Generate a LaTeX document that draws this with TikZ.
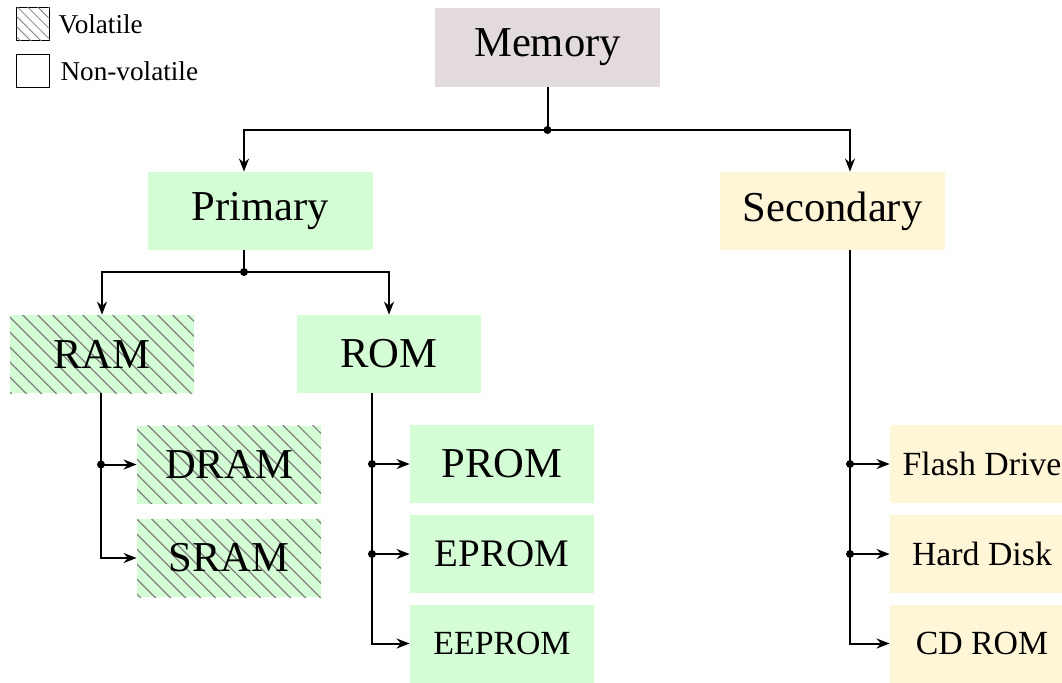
\documentclass[tikz,border=0pt]{standalone}
\usepackage{fontspec}
\setmainfont{Liberation Serif}
\usetikzlibrary{positioning, arrows.meta, patterns.meta}

\definecolor{memgray}{RGB}{226,218,221}
\definecolor{primgreen}{RGB}{213,253,213}
\definecolor{secyellow}{RGB}{255,245,215}

\begin{document}
\begin{tikzpicture}[x=0.5pt, y=-0.5pt,
  box/.style={rectangle, inner sep=0pt, minimum width=92pt, minimum height=39pt,
    font=\fontsize{21.3pt}{25pt}\selectfont},
  wide/.style={box, minimum width=112.5pt},
  small/.style={font=\fontsize{16.9pt}{20pt}\selectfont},
  hatch/.style={postaction={pattern={Lines[angle=-45, distance=5.3pt, line width=0.6pt]},
    pattern color=gray}},
  legsq/.style={rectangle, draw, line width=0.7pt, inner sep=0pt, minimum size=16.5pt},
  legtext/.style={inner sep=0pt, anchor=west, font=\fontsize{13.6pt}{16pt}\selectfont},
  link/.style={line width=1pt},
  arr/.style={link, -{Stealth[length=6.5pt, width=5pt]}},
  dot/.style={circle, fill, inner sep=0pt, minimum size=4pt}
]
\useasboundingbox (0,0) rectangle (1062,682);

%Legend
\node[legsq, postaction={pattern={Lines[angle=-45, distance=3.6pt, line width=0.4pt]},
  pattern color=gray}] (lvol) at (33,24) {};
\node[legtext, right=4pt of lvol] (tvol) {Volatile};
\node[legsq] (lnon) at (33,71) {};
\node[legtext, right=5pt of lnon] (tnon) {Non-volatile};

%Top levels
\node[wide, fill=memgray, minimum height=39.5pt] (mem) at (547.5,47.5) {Memory};
\node[wide, fill=primgreen] (pri) at (260.5,211) {Primary};
\node[wide, fill=secyellow] (sec) at (832.5,211) {Secondary};

%Primary memory
\node[box, fill=primgreen, hatch] (ram) at (102,354) {RAM};
\node[box, fill=primgreen] (rom) at (389,354) {ROM};
\node[box, fill=primgreen, hatch] (dram) at (229,464.5) {DRAM};
\node[box, fill=primgreen, hatch] (sram) at (229,558) {SRAM};
\node[box, fill=primgreen] (prom) at (502,464) {PROM};
\node[box, fill=primgreen, font=\fontsize{19.5pt}{23pt}\selectfont] (eprom) at (502,554) {EPROM};
\node[box, fill=primgreen, small] (eeprom) at (502,643.5) {EEPROM};

%Secondary memory
\node[box, fill=secyellow, small] (flash) at (982,464) {Flash Drive};
\node[box, fill=secyellow, small] (hard) at (982,554) {Hard Disk};
\node[box, fill=secyellow, small] (cd) at (982,643.5) {CD ROM};

% Connectors
\coordinate (mj) at (547.5,130);
\draw[link] (mem.south) -- (mj);
\draw[arr] (mj) -| ([xshift=-8.25pt]pri.north);
\draw[arr] (mj) -| ([xshift=8.75pt]sec.north);
\node[dot] at (mj) {};

\coordinate (pj) at (244,272);
\draw[link] ([xshift=-8.25pt]pri.south) -- (pj);
\foreach \to in {ram, rom}
  \draw[arr] (pj) -| (\to.north);
\node[dot] at (pj) {};

\coordinate (ramout) at ([xshift=-0.5pt]ram.south);
\foreach \to in {dram, sram}
  \draw[arr] (ramout) |- (\to.west);
\node[dot] at (ramout |- dram.west) {};

\coordinate (romout) at ([xshift=-8.5pt]rom.south);
\foreach \to in {prom, eprom, eeprom}
  \draw[arr] (romout) |- (\to.west);
\foreach \to in {prom, eprom}
  \node[dot] at (romout |- \to.west) {};

\coordinate (secout) at ([xshift=8.75pt]sec.south);
\foreach \to in {flash, hard, cd}
  \draw[arr] (secout) |- (\to.west);
\foreach \to in {flash, hard}
  \node[dot] at (secout |- \to.west) {};

\end{tikzpicture}
\end{document}
